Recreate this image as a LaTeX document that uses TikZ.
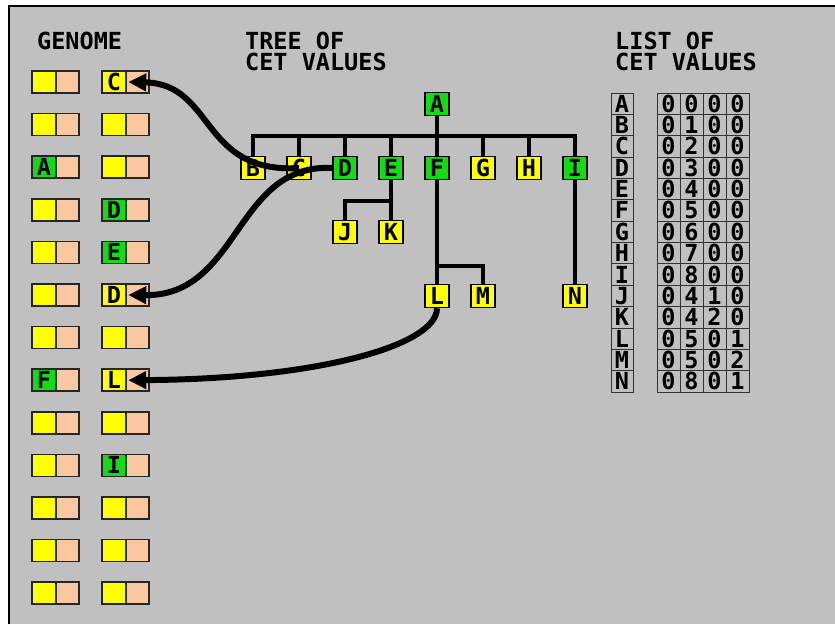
\documentclass[tikz,border=0pt]{standalone}
\usepackage{fontspec}
\newfontfamily\cetfont{DejaVu Sans Mono}
\usetikzlibrary{arrows.meta}
\definecolor{bggray}{RGB}{192,192,192}
\definecolor{cyel}{RGB}{255,255,0}
\definecolor{cgrn}{RGB}{20,220,20}
\definecolor{cpch}{RGB}{250,200,160}
\begin{document}
\begin{tikzpicture}[x=1pt,y=-1pt,
  lbl/.style={font=\cetfont\bfseries\fontsize{23.5}{21}\selectfont},
  tnode/.style={draw=black, line width=1.5pt, minimum width=24pt, minimum height=23pt, inner sep=0pt, text height=17pt, text depth=0pt, lbl},
  gcell/.style={draw=black!85, line width=1.5pt, minimum width=24pt, minimum height=22pt, inner sep=0pt, text height=17pt, text depth=0pt, lbl},
  pcell/.style={gcell, fill=cpch, minimum width=23pt},
  tcell/.style={draw=black!80, line width=0.8pt, minimum height=21.36pt, inner sep=0pt, text height=17pt, text depth=0pt, lbl},
  title/.style={lbl, anchor=north west, inner sep=0pt, align=left},
  tline/.style={line width=3.5pt},
  curve/.style={line width=6pt, -{Triangle[length=18pt,width=17pt]}}]
\useasboundingbox (0,0) rectangle (835,624);
\fill[white] (0,0) rectangle (835,624);
\fill[bggray] (9,6) rectangle (835,624);
\draw[line width=1.5pt] (9,624) -- (9,6) -- (835,6);
% titles
\node[title] (tgen) at (37,32) {GENOME};
\node[title] (ttree) at (245,32) {TREE OF\\CET VALUES};
\node[title] (tlist) at (615,32) {LIST OF\\CET VALUES};
% genome
\foreach \r/\fa/\la/\fb/\lb in {1/cyel/{}/cyel/C, 2/cyel/{}/cyel/{}, 3/cgrn/A/cyel/{}, 4/cyel/{}/cgrn/D, 5/cyel/{}/cgrn/E, 6/cyel/{}/cyel/D, 7/cyel/{}/cyel/{}, 8/cgrn/F/cyel/L, 9/cyel/{}/cyel/{}, 10/cyel/{}/cgrn/I, 11/cyel/{}/cyel/{}, 12/cyel/{}/cyel/{}, 13/cyel/{}/cyel/{}} {
  \pgfmathsetmacro\yy{82+42.6*(\r-1)}
  \node[gcell, fill=\fa] (ga\r) at (44,\yy) {\la};
  \node[pcell] (pa\r) at (67.5,\yy) {};
  \node[gcell, fill=\fb] (gb\r) at (114,\yy) {\lb};
  \node[pcell] (pb\r) at (137.5,\yy) {};
}
% tree
\node[tnode, fill=cgrn] (tA) at (437,104) {A};
\foreach \n/\x/\c in {B/253/cyel, C/299/cyel, D/345/cgrn, E/391/cgrn, F/437/cgrn, G/483/cyel, H/529/cyel, I/575/cgrn}
  \node[tnode, fill=\c] (t\n) at (\x,168) {\n};
\node[tnode, fill=cyel] (tJ) at (345,232) {J};
\node[tnode, fill=cyel] (tK) at (391,232) {K};
\node[tnode, fill=cyel] (tL) at (437,296) {L};
\node[tnode, fill=cyel] (tM) at (483,296) {M};
\node[tnode, fill=cyel] (tN) at (575,296) {N};
\draw[tline] (tA.south) -- (tF.north);
\draw[tline] (tB.north) -- (tB.north |- 0,136) -- (tI.north |- 0,136) -- (tI.north);
\foreach \n in {C,D,E,G,H}
  \draw[tline] (t\n.north) -- (t\n.north |- 0,136);
\draw[tline] (tE.south) -- (tK.north);
\draw[tline] (tE.south |- 0,201) -| (tJ.north);
\draw[tline] (tF.south) -- (tL.north);
\draw[tline] (tF.south |- 0,266) -| (tM.north);
\draw[tline] (tI.south) -- (tN.north);
% list
\foreach \l/\a/\b/\c/\d [count=\i] in {A/0/0/0/0, B/0/1/0/0, C/0/2/0/0, D/0/3/0/0, E/0/4/0/0, F/0/5/0/0, G/0/6/0/0, H/0/7/0/0, I/0/8/0/0, J/0/4/1/0, K/0/4/2/0, L/0/5/0/1, M/0/5/0/2, N/0/8/0/1} {
  \node[tcell, minimum width=22pt] (r\l) at (622, {93+21.36*(\i-0.5)}) {\l};
  \foreach \v [count=\j] in {\a,\b,\c,\d}
    \node[tcell, minimum width=23pt] (v\l\j) at ({657+23*(\j-0.5)}, {93+21.36*(\i-0.5)}) {\v};
}
% arrows
\draw[curve] (tC.center) .. controls (200,174) and (215,84) .. ([xshift=3pt]pb1.west);
\draw[curve] (tD.west) .. controls (235,163) and (240,296) .. ([xshift=3pt]pb6.west);
\draw[curve] (tL.south) .. controls (437,345) and (320,379) .. ([xshift=3pt]pb8.west);
\end{tikzpicture}
\end{document}
